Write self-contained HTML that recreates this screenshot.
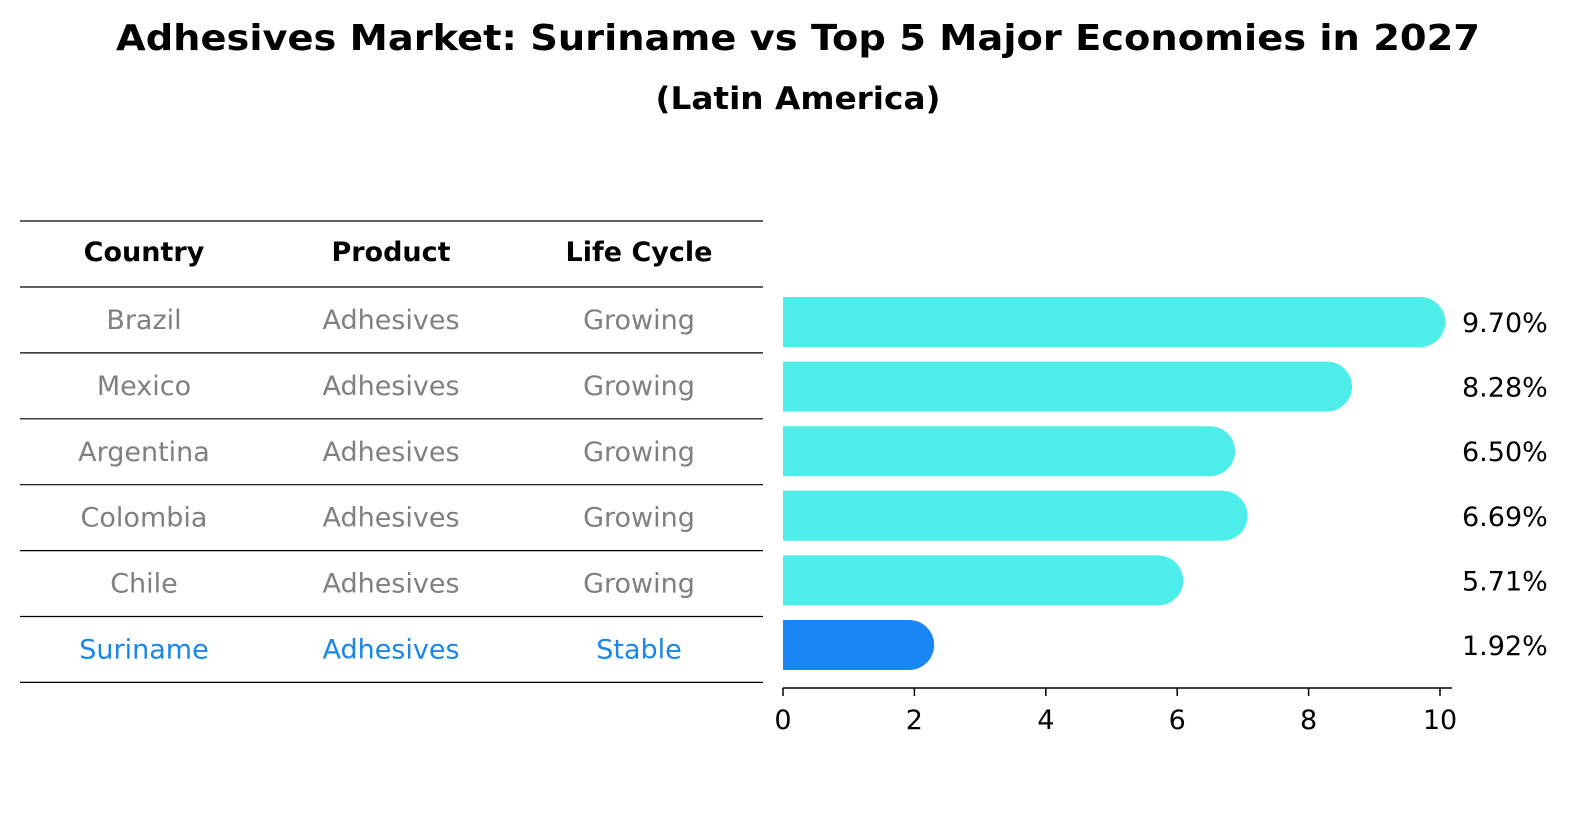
<!DOCTYPE html>
<html><head><meta charset="utf-8"><style>
body{margin:0;background:#fff;font-family:"DejaVu Sans","Liberation Sans",sans-serif;}
svg text{font-family:"DejaVu Sans","Liberation Sans",sans-serif;}
</style></head><body>
<svg id="chart" width="1586" height="823" viewBox="0 0 1586 823" xmlns="http://www.w3.org/2000/svg">
<rect width="1586" height="823" fill="#fff"/>
<text x="798" y="50" text-anchor="middle" font-size="36" font-weight="bold" textLength="1364" lengthAdjust="spacingAndGlyphs">Adhesives Market: Suriname vs Top 5 Major Economies in 2027</text>
<text x="798" y="109" text-anchor="middle" font-size="31" font-weight="bold" textLength="285" lengthAdjust="spacingAndGlyphs">(Latin America)</text>
<g id="table"></g>
<g id="bars"></g>
<g id="axis"></g>
</svg>
<script>
const countries=["Brazil","Mexico","Argentina","Colombia","Chile","Suriname"];
const products=["Adhesives","Adhesives","Adhesives","Adhesives","Adhesives","Adhesives"];
const lifeCycles=["Growing","Growing","Growing","Growing","Growing","Stable"];
const values=[9.70,8.28,6.50,6.69,5.71,1.92];
const valueLabels=["9.70%","8.28%","6.50%","6.69%","5.71%","1.92%"];
const ticks=[0,2,4,6,8,10];
const NS="http://www.w3.org/2000/svg";
function mk(t,a,p){const e=document.createElementNS(NS,t);for(const k in a)e.setAttribute(k,a[k]);p.appendChild(e);return e;}
const x=v=>783+v*65.7;
const rowY=i=>322+i*64.6;
const table=document.getElementById('table');
const bars=document.getElementById('bars');
const axis=document.getElementById('axis');
const FS=27;
const cols=[144,391,639];
const hdr=["Country","Product","Life Cycle"];
hdr.forEach((h,j)=>{const t=mk('text',{x:cols[j],y:261,'text-anchor':'middle','font-size':FS,'font-weight':'bold'},table);t.textContent=h;

});
const lineYs=[221,287];
for(let i=0;i<countries.length;i++)lineYs.push(287+(i+1)*65.9);
lineYs.forEach((y,i)=>{const l=mk('line',{x1:20,x2:763,y1:y,y2:y,stroke:'#000','stroke-width':1.2},table);

});
countries.forEach((c,i)=>{
 const y=320+i*65.9+9;
 const col=c==="Suriname"?"#1a86e8":"#808080";
 [c,products[i],lifeCycles[i]].forEach((s,j)=>{const t=mk('text',{x:cols[j],y:y,'text-anchor':'middle','font-size':FS,fill:col},table);t.textContent=s;
 
 });
 const yc=rowY(i);
 const fill=c==="Suriname"?"#1a86f5":"#4deee9";
 const xe=x(values[i]);
 const p=mk('path',{d:`M783 ${yc-25} H${xe} A25 25 0 0 1 ${xe} ${yc+25} H783 Z`,fill:fill},bars);
 
 
 const lt=mk('text',{x:1462,y:yc+10,'font-size':FS},bars);lt.textContent=valueLabels[i];
 
 
});
const al=mk('line',{x1:783,x2:1452,y1:688,y2:688,stroke:'#000','stroke-width':1.5},axis);


ticks.forEach(v=>{const tl=mk('line',{x1:x(v),x2:x(v),y1:688,y2:696,stroke:'#000','stroke-width':1.5},axis);


const t=mk('text',{x:x(v),y:729,'text-anchor':'middle','font-size':FS},axis);t.textContent=v;

});
</script>
</body></html>
